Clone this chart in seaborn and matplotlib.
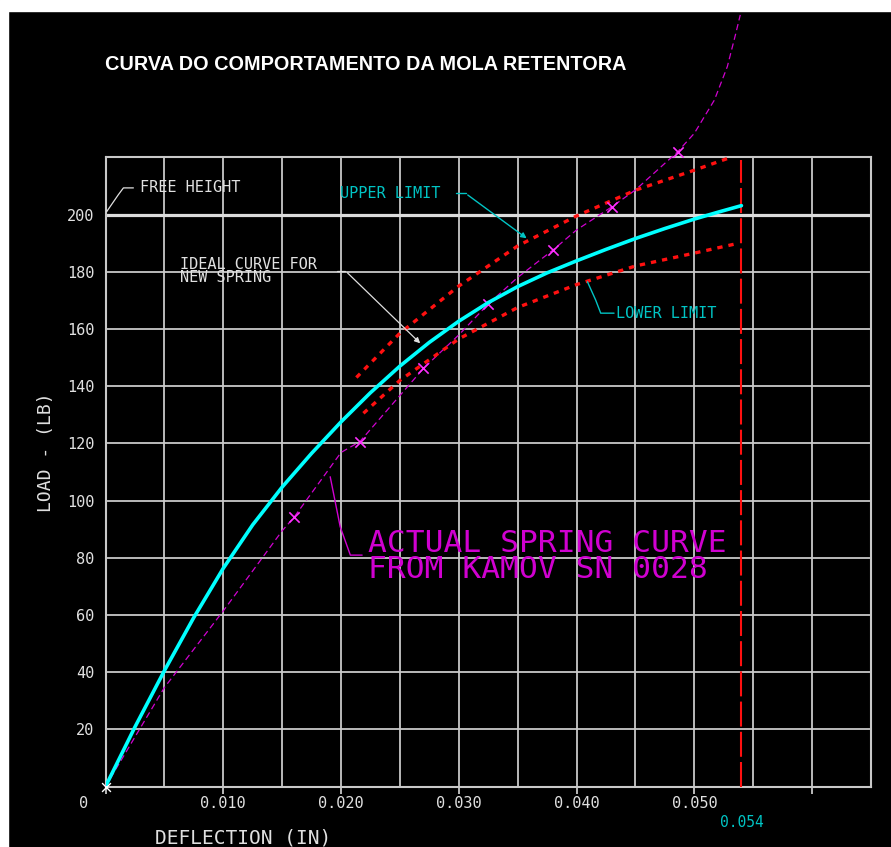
import numpy as np
import pandas as pd
import seaborn as sns
import matplotlib.pyplot as plt
from matplotlib.patches import Rectangle

# ideal curve for new spring (cyan)
ideal_x = [0, 0.0025, 0.005, 0.0075, 0.010, 0.0125, 0.015, 0.0175, 0.020, 0.0225, 0.025,
           0.0275, 0.030, 0.0325, 0.035, 0.0375, 0.040, 0.0425, 0.045, 0.0475, 0.050, 0.052, 0.054]
ideal_y = [0, 20.8, 40.5, 59.1, 76.3, 91.5, 104.7, 116.5, 127.5, 137.7, 147.0,
           155.3, 162.7, 169.2, 174.8, 179.6, 183.8, 187.8, 191.6, 195.1, 198.4, 200.8, 203.1]

# upper / lower limits (red)
upper_x = [0.0213, 0.025, 0.030, 0.035, 0.040, 0.045, 0.050, 0.0531]
upper_y = [143, 158.5, 175, 189, 199.5, 208.5, 215.5, 220]
lower_x = [0.0219, 0.025, 0.030, 0.035, 0.040, 0.045, 0.050, 0.0538]
lower_y = [130.5, 142, 156.5, 167.5, 175.5, 182, 186.5, 190]

# actual spring curve from Kamov SN 0028 (magenta)
actual_x = [0, 0.005, 0.010, 0.015, 0.016, 0.020, 0.0216, 0.027, 0.030, 0.0325, 0.035, 0.038,
            0.040, 0.043, 0.045, 0.0486, 0.050, 0.0517, 0.0528, 0.0535, 0.0539]
actual_y = [0, 34.6, 61.4, 89.4, 94.1, 116.8, 120.6, 146.2, 157.9, 168.7, 178, 187.6,
            194.6, 202.7, 208.6, 222, 228.4, 240, 251.7, 263, 269.8]
mark_x = [0.016, 0.0216, 0.027, 0.0325, 0.038, 0.043, 0.0486]
mark_y = [94.1, 120.6, 146.2, 168.7, 187.6, 202.7, 222]

free_height = 200
max_defl = 0.054

xticks = [0, 0.010, 0.020, 0.030, 0.040, 0.050, 0.060]
xtick_labels = ['', '0.010', '0.020', '0.030', '0.040', '0.050', '']
yticks = list(range(0, 240, 20))
ytick_labels = [''] + [str(v) for v in range(20, 220, 20)] + ['']

ideal = pd.DataFrame({'x': ideal_x, 'y': ideal_y})
upper = pd.DataFrame({'x': upper_x, 'y': upper_y})
lower = pd.DataFrame({'x': lower_x, 'y': lower_y})
actual = pd.DataFrame({'x': actual_x, 'y': actual_y})
marks = pd.DataFrame({'x': mark_x, 'y': mark_y})

sns.set_theme(style='dark', rc={'axes.facecolor': 'black', 'figure.facecolor': 'black',
                                'axes.edgecolor': '#c8c8c8', 'grid.color': '#c8c8c8'})
plt.rcParams['font.family'] = ['DejaVu Sans Mono']

mono = 'DejaVu Sans Mono'
grey = '#e0e0e0'
cyan = '#00ffff'
cyan_txt = '#00c4c4'
red = '#ff1010'
mag = '#d000d0'

fig = plt.figure(figsize=(8.91, 8.47), dpi=100)
fig.patches.append(Rectangle((0, 1 - 11 / 847), 1, 11 / 847, transform=fig.transFigure,
                             color='white', zorder=0))
fig.patches.append(Rectangle((0, 0), 8 / 891, 1, transform=fig.transFigure,
                             color='white', zorder=0))
ax = fig.add_axes([105.5 / 891, 1 - 786.5 / 847, 765.5 / 891, 629.2 / 847])

ax.set_xlim(0, 0.065)
ax.set_ylim(0, 220)
ax.set_xticks(xticks, labels=xtick_labels)
ax.set_xticks(np.arange(0, 0.0651, 0.005), minor=True)
ax.set_yticks(yticks, labels=ytick_labels)
ax.grid(True, which='both', color='#c8c8c8', lw=1.3)
ax.tick_params(axis='x', which='major', bottom=True, length=5, width=1.3, color='#c8c8c8',
               pad=2, labelsize=11, labelcolor=grey)
ax.tick_params(axis='x', which='minor', bottom=False)
ax.tick_params(axis='y', left=False, pad=2, labelsize=11, labelcolor=grey)
for lab in ax.get_xticklabels() + ax.get_yticklabels():
    lab.set_family(mono)
for s in ax.spines.values():
    s.set_color('#c8c8c8')
    s.set_linewidth(1.5)
ax.axhline(free_height, color='#dcdcdc', lw=2.3, zorder=1)

sns.lineplot(data=actual, x='x', y='y', ax=ax, color=mag, lw=0.9, estimator=None,
             linestyle=(0, (5, 3)), clip_on=False, zorder=3)
sns.scatterplot(data=marks, x='x', y='y', ax=ax, color='#ff30ff', marker='x', s=55,
                linewidth=1.2, clip_on=False, zorder=4)
ax.scatter([0], [0], marker='x', color='white', s=40, linewidth=1, clip_on=False, zorder=5)
sns.lineplot(data=upper, x='x', y='y', ax=ax, color=red, lw=2.4, estimator=None,
             linestyle=(0, (1.6, 1.8)), zorder=3)
sns.lineplot(data=lower, x='x', y='y', ax=ax, color=red, lw=2.4, estimator=None,
             linestyle=(0, (1.6, 1.8)), zorder=3)
sns.lineplot(data=ideal, x='x', y='y', ax=ax, color=cyan, lw=2.6, estimator=None, zorder=4)
ax.plot([max_defl, max_defl], [0, 219], color=red, lw=1.5, linestyle=(0, (12, 2.5)), zorder=3)

ax.set_xlabel('DEFLECTION (IN)', fontsize=14, color=grey, family=mono)
ax.xaxis.set_label_coords(0.180, -0.066)
ax.set_ylabel('LOAD - (LB)', fontsize=13, color=grey, family=mono)
ax.yaxis.set_label_coords(-0.066, 0.532)

ax.text(-0.0019, -6.1, '0', fontsize=11, color=grey, family=mono, ha='center', va='center')
ax.text(max_defl, -12.6, '0.054', fontsize=10.5, color=cyan_txt, family=mono,
        ha='center', va='center')

fig.text(105 / 891, 1 - 64.6 / 847, 'CURVA DO COMPORTAMENTO DA MOLA RETENTORA',
         fontsize=14.3, fontweight='bold', color='white',
         family=['Liberation Sans'], ha='left', va='center')

# annotations
kw = dict(clip_on=False, zorder=6)
ax.plot([0.0001, 0.00107, 0.00152, 0.00237], [201, 206.8, 209.3, 209.3], color=grey, lw=0.9, **kw)
ax.text(0.0029, 209.3, 'FREE HEIGHT', fontsize=11, color=grey, family=mono, va='center')

ax.text(0.01994, 207.4, 'UPPER LIMIT', fontsize=11, color=cyan_txt, family=mono, va='center')
ax.annotate('', xy=(0.03595, 191.1), xytext=(0.03057, 207.4),
            arrowprops=dict(arrowstyle='-|>', color=cyan_txt, lw=1, mutation_scale=8), zorder=6)
ax.plot([0.02972, 0.03057], [207.4, 207.4], color=cyan_txt, lw=1, **kw)

ax.text(0.00633, 180.3, 'IDEAL CURVE FOR\nNEW SPRING', fontsize=11, color=grey, family=mono,
        va='center', linespacing=0.85)
ax.annotate('', xy=(0.02689, 154.3), xytext=(0.02037, 180.3),
            arrowprops=dict(arrowstyle='-|>', color=grey, lw=0.9, mutation_scale=8), zorder=6)
ax.plot([0.01966, 0.02037], [180.3, 180.3], color=grey, lw=0.9, **kw)

ax.plot([0.04092, 0.04162, 0.04205, 0.04318], [176.5, 170.1, 165.5, 165.5], color=cyan_txt,
        lw=1, **kw)
ax.text(0.04333, 165.5, 'LOWER LIMIT', fontsize=11, color=cyan_txt, family=mono, va='center')

ax.plot([0.01908, 0.01993, 0.02079, 0.02179], [108.3, 90.8, 80.9, 80.9], color=mag, lw=1, **kw)
ax.text(0.02232, 80.5, 'ACTUAL SPRING CURVE\nFROM KAMOV SN 0028', fontsize=22.5, color=mag,
        family=mono, va='center', linespacing=0.85)

fig.savefig('out.png', dpi=100, facecolor=fig.get_facecolor())
